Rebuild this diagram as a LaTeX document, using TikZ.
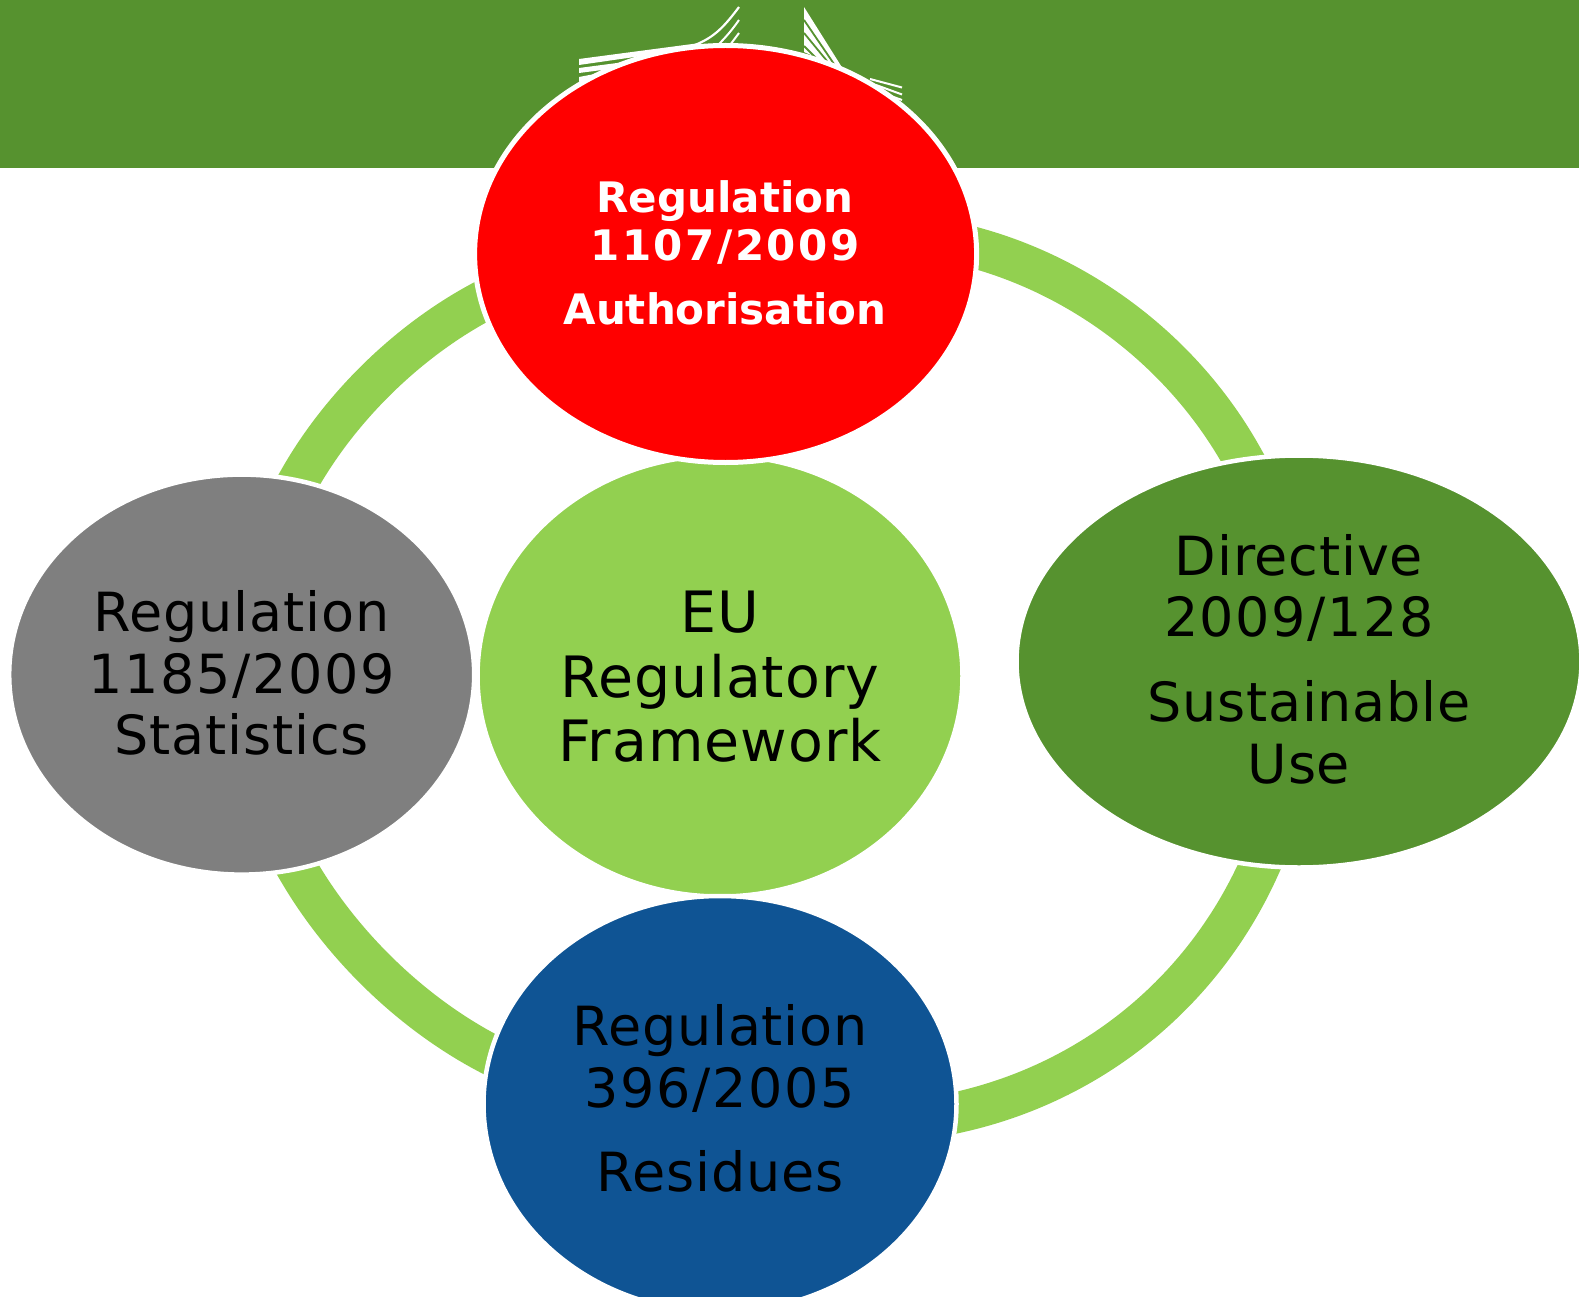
\documentclass[tikz,border=0pt]{standalone}
\usepackage{fontspec}
\setmainfont{DejaVu Sans}
\definecolor{band}{RGB}{86,146,47}
\definecolor{lime}{RGB}{146,208,80}
\definecolor{navy}{RGB}{15,84,148}
\definecolor{midgray}{RGB}{127,127,127}
\usetikzlibrary{shapes.geometric,calc}
\tikzset{
  disc/.style={ellipse,draw=white,line width=4.5pt,inner sep=0pt},
  big/.style={anchor=base,font=\fontsize{54}{60}\selectfont\addfontfeatures{LetterSpace=1.5},text=black,inner sep=0pt},
  bignum/.style={anchor=base,font=\fontsize{54}{60}\selectfont\addfontfeatures{LetterSpace=3},text=black,inner sep=0pt},
  bigger/.style={anchor=base,font=\fontsize{57}{64}\selectfont\addfontfeatures{LetterSpace=1.8},text=black,inner sep=0pt},
  boldtxt/.style={anchor=base,font=\fontsize{42}{48}\selectfont\bfseries,text=white,inner sep=0pt},
  boldnum/.style={anchor=base,font=\fontsize{42}{48}\selectfont\bfseries\addfontfeatures{LetterSpace=6},text=white,inner sep=0pt},
  ringarc/.style={draw=lime,line width=41pt},
  spire/.style={draw=white,line width=2pt}
}
\newcommand{\ringseg}[3]{%
  \draw[ringarc] ($(#1)!-0.15!(#2)$) -- (#1) .. controls ($(#1)!0.634!(#2)$) and ($(#3)!0.634!(#2)$) .. (#3) -- ($(#3)!-0.15!(#2)$);}
\begin{document}
\begin{tikzpicture}[x=1pt,y=-1pt]
\useasboundingbox (0,0) rectangle (1579,1297);
\clip (0,0) rectangle (1579,1297);
\fill[white] (0,0) rectangle (1579,1297);
\fill[band] (0,0) rectangle (1579,168);
% ornament
\fill[white] (579,59) -- (700,43) -- (704,47) -- (579,65) -- cycle;
\fill[white] (579,68) -- (640,60) -- (610,69) -- (579,73) -- cycle;
\fill[white] (579,77) -- (600,73) -- (590,78) -- (579,82) -- cycle;
\fill[white] (804,7) -- (843,69) -- (804,52) -- cycle;
\draw[band,line width=1.8pt] (804,20) -- (834,64);
\draw[band,line width=1.8pt] (804,33) -- (827,61);
\draw[band,line width=1.8pt] (804,46) -- (817,59);
\draw[spire,line width=2.2pt] (739,7) .. controls (722,30) and (712,38) .. (695,45);
\draw[spire] (739,20) .. controls (732,30) and (726,37) .. (718,45);
\draw[spire] (739,33) -- (730,45);
\draw[spire] (902,87.5) -- (870,79);
\draw[spire] (902,94.5) -- (876,85);
\draw[spire] (902,100) -- (885,94);
\fill[band] (638,1294) -- (648,1297) -- (638,1297) -- cycle;
% ring segments
\coordinate (urA) at (978.3,248.7); \coordinate (urC) at (1153.2,298.5); \coordinate (urB) at (1242,457);
\coordinate (lrA) at (1258.8,868); \coordinate (lrC) at (1169.4,1065.2); \coordinate (lrB) at (958,1112.3);
\coordinate (llA) at (298,870); \coordinate (llC) at (367.8,989.9); \coordinate (llB) at (488,1053.3);
\coordinate (ulA) at (299.7,478.8); \coordinate (ulC) at (364.4,365.5); \coordinate (ulB) at (479,303);
\ringseg{urA}{urC}{urB}
\ringseg{lrA}{lrC}{lrB}
\ringseg{llA}{llC}{llB}
\ringseg{ulA}{ulC}{ulB}
% discs
\node[disc,fill=lime,minimum width=485pt,minimum height=441pt] (core) at (720,676) {};
\node[disc,fill=midgray,minimum width=465pt,minimum height=400pt] (stats) at (241.7,674.6) {};
\node[disc,fill=band,minimum width=565pt,minimum height=412pt] (use) at (1299,661.5) {};
\node[disc,fill=navy,minimum width=473pt,minimum height=416pt] (residues) at (720,1104) {};
\node[disc,fill=red,line width=5pt,minimum width=502pt,minimum height=417pt] (auth) at (725.6,254) {};
% texts
\node[boldtxt] (a1) at (725,212.5) {Regulation};
\node[boldnum] (a2) at (725,261) {1107/2009};
\node[boldtxt] (a3) at (725,324) {Authorisation};
\node[big] (u1) at (1299,575) {Directive};
\node[bignum] (u2) at (1299,636.5) {2009/128};
\node[big] (u3) at (1309,721) {Sustainable};
\node[big] (u4) at (1299,783.5) {Use};
\node[big] (s1) at (241.7,631.5) {Regulation};
\node[bignum] (s2) at (241.7,693) {1185/2009};
\node[big] (s3) at (241.7,754) {Statistics};
\node[bigger] (c1) at (720,632) {EU};
\node[bigger] (c2) at (720,697) {Regulatory};
\node[bigger] (c3) at (720,761) {Framework};
\node[big] (r1) at (720,1045) {Regulation};
\node[bignum] (r2) at (720,1107) {396/2005};
\node[big] (r3) at (720,1191) {Residues};
\end{tikzpicture}
\end{document}
